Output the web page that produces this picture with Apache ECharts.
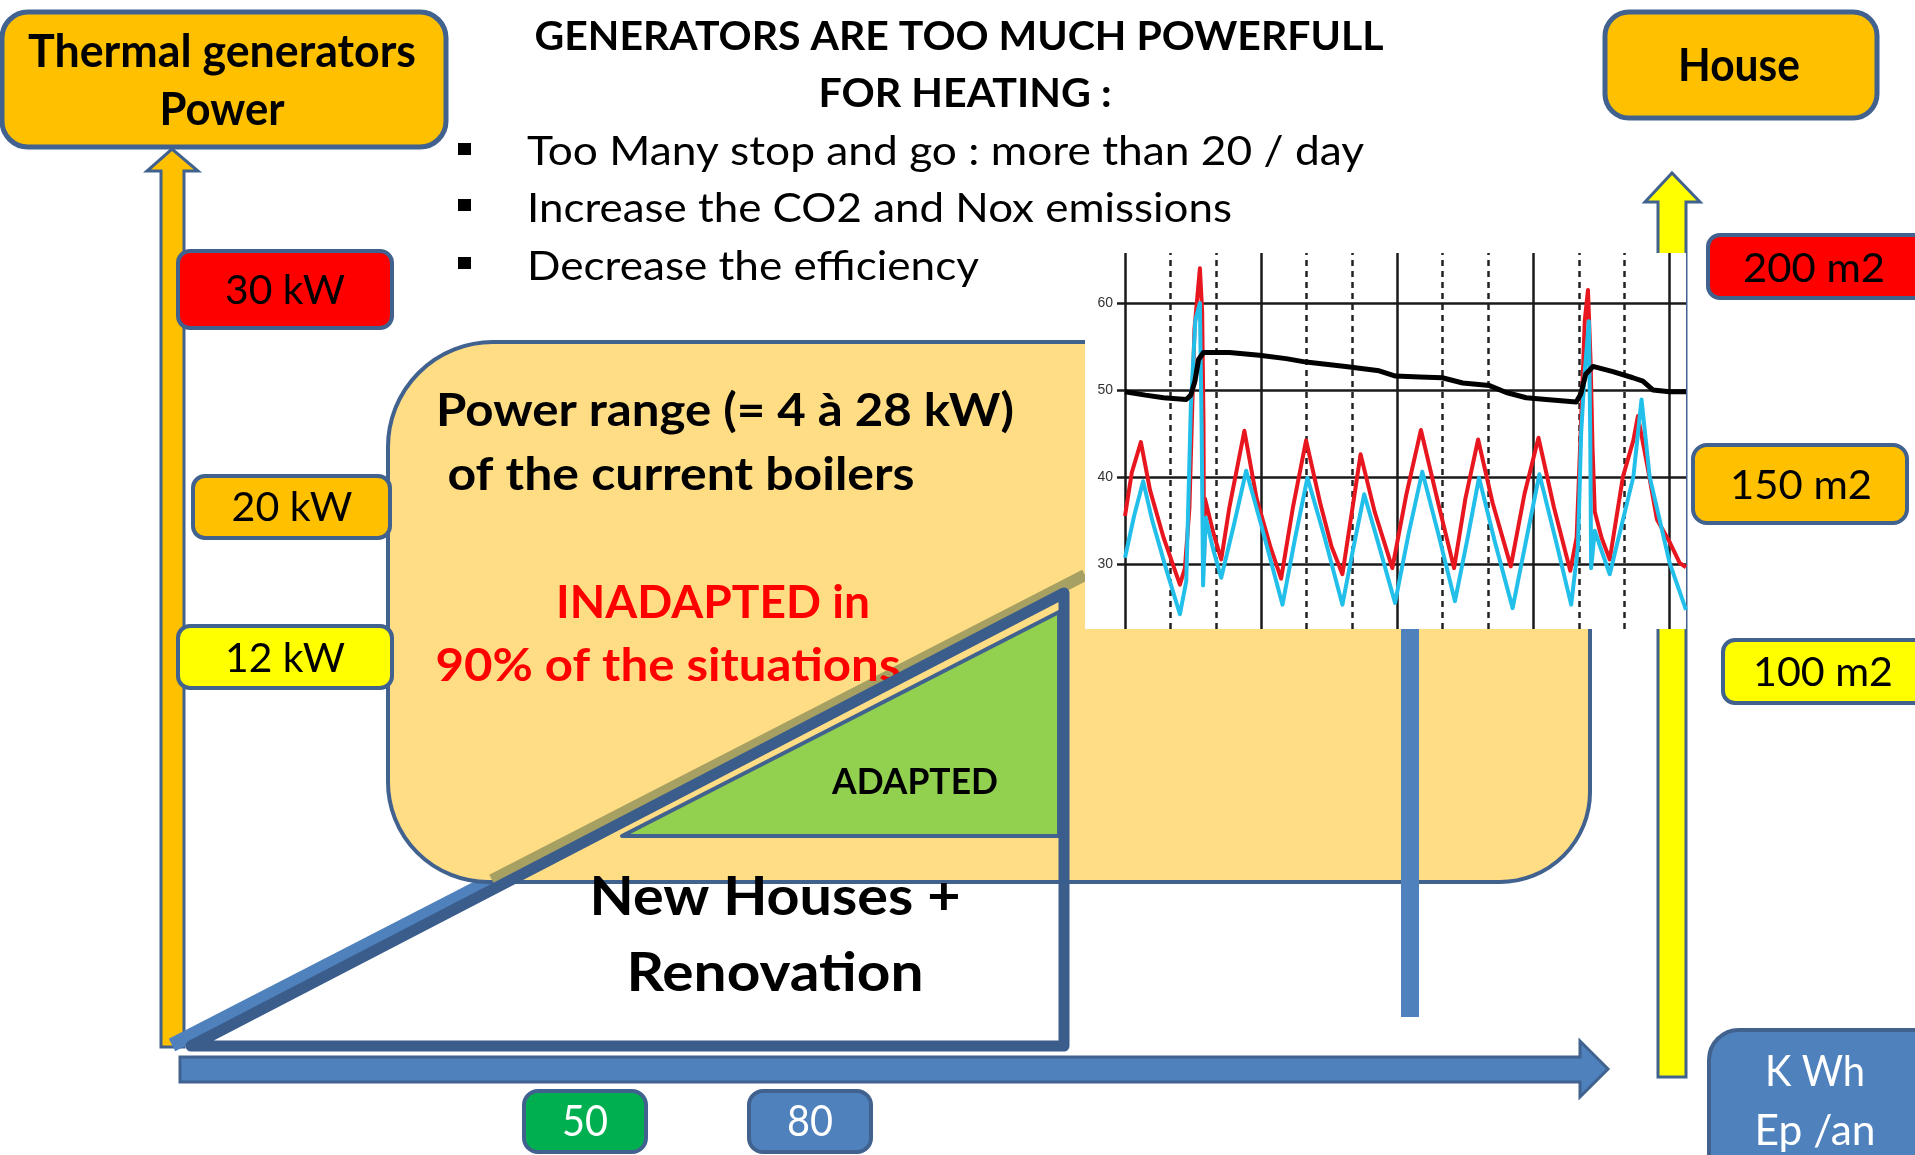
<!DOCTYPE html>
<html><head><meta charset="utf-8">
<script src="https://cdn.jsdelivr.net/npm/echarts@6/dist/echarts.min.js"></script>
<style>html,body{margin:0;padding:0;background:#fff;overflow:hidden}#c{width:1915px;height:1155px}</style>
</head><body><div id="c"></div>
<script>
// ===== DATA =====
const yTickValues = [30, 40, 50, 60];
const majorX = [0, 3, 6, 9, 12];
const minorX = [1, 2, 4, 5, 7, 8, 10, 11];
const blackLine = [[0.00,49.8],[0.45,49.4],[0.85,49.1],[1.35,48.9],[1.45,49.4],[1.54,51.0],[1.62,53.5],[1.73,54.3],[2.30,54.3],[2.96,54.0],[3.55,53.6],[3.99,53.2],[4.86,52.7],[5.60,52.2],[5.96,51.6],[6.50,51.5],[6.99,51.4],[7.44,50.8],[8.03,50.5],[8.40,49.7],[8.84,49.1],[9.28,48.9],[9.94,48.6],[10.04,49.5],[10.15,51.8],[10.31,52.7],[10.75,52.1],[11.19,51.4],[11.41,51.0],[11.63,50.0],[12.00,49.8],[12.36,49.8]];
const redLine = [[0.00,35.5],[0.15,40.5],[0.35,44.0],[0.55,38.5],[0.85,33.0],[1.21,27.6],[1.32,29.5],[1.42,36.5],[1.53,57.0],[1.65,64.0],[1.70,59.0],[1.73,46.0],[1.74,30.0],[1.76,37.5],[1.95,33.5],[2.12,30.5],[2.30,36.5],[2.63,45.3],[2.90,37.5],[3.20,32.0],[3.44,28.3],[3.70,36.5],[3.99,44.2],[4.30,37.0],[4.55,32.0],[4.79,28.8],[5.00,36.0],[5.19,42.6],[5.50,36.0],[5.89,29.5],[6.20,38.0],[6.52,45.4],[6.90,37.0],[7.25,29.5],[7.50,37.5],[7.78,44.3],[8.10,37.0],[8.50,29.7],[8.80,38.0],[9.11,44.5],[9.45,36.5],[9.81,29.2],[9.95,33.0],[10.06,48.0],[10.13,58.0],[10.20,61.5],[10.26,53.0],[10.30,43.5],[10.35,36.0],[10.50,33.0],[10.68,30.5],[10.97,40.0],[11.20,44.2],[11.30,47.0],[11.50,41.5],[11.72,35.1],[12.00,32.5],[12.22,30.1],[12.36,29.6]];
const cyanLine = [[0.00,30.7],[0.20,35.5],[0.40,39.5],[0.60,35.0],[0.90,29.5],[1.21,24.2],[1.35,28.0],[1.45,48.0],[1.55,58.0],[1.65,60.0],[1.69,45.0],[1.72,27.5],[1.78,35.3],[1.95,31.5],[2.12,28.4],[2.40,34.5],[2.67,40.7],[3.00,34.5],[3.47,25.3],[3.75,33.0],[4.02,39.9],[4.40,33.0],[4.79,25.3],[5.00,31.0],[5.27,38.0],[5.60,32.0],[5.95,25.5],[6.25,33.5],[6.55,40.6],[6.90,33.5],[7.27,25.7],[7.55,33.0],[7.80,39.9],[8.15,32.5],[8.54,24.9],[8.85,33.0],[9.13,40.3],[9.50,32.5],[9.83,25.3],[9.98,32.0],[10.05,45.0],[10.12,51.4],[10.22,57.9],[10.25,45.0],[10.27,29.5],[10.35,33.8],[10.50,31.5],[10.68,28.8],[11.20,40.0],[11.38,48.9],[11.56,40.0],[12.00,30.1],[12.36,24.7]];
const powerLabels = ['30 kW', '20 kW', '12 kW'];
const areaLabels = ['200 m2', '150 m2', '100 m2'];
const energyLabels = ['50', '80'];
const unitLines = ['K Wh', 'Ep /an'];
const leftTitle = ['Thermal generators', 'Power'];
const rightTitle = 'House';
const titleLines = ['GENERATORS ARE TOO MUCH POWERFULL', 'FOR HEATING :'];
const bullets = ['Too Many stop and go : more than 20 / day', 'Increase the CO2 and Nox emissions', 'Decrease the efficiency'];
const rangeLines = ['Power range (= 4 à 28 kW)', 'of the current boilers'];
const inadaptedLines = ['INADAPTED in', '90% of the situations'];
const adaptedText = 'ADAPTED';
const newLines = ['New Houses +', 'Renovation'];

// ===== STYLE / LAYOUT =====
const FONT = 'Lato';
const BORDER = '#41628F', BLUE = '#4F81BD', DARKBLUE = '#3A5D8B';
const mctx = document.createElement('canvas').getContext('2d');
function txt(text, x, y, size, weight, color, targetW, z, align) {
  const font = weight + ' ' + size + 'px ' + FONT;
  mctx.font = font;
  const w = mctx.measureText(text).width;
  const sx = targetW ? targetW / w : 1;
  align = align || 'center';
  return { type: 'text', x: x, y: y, scaleX: sx, z: z || 7, silent: true,
    style: { text: text, x: 0, y: 0, font: font, fill: color, align: align, verticalAlign: 'middle', textAlign: align, textVerticalAlign: 'middle' } };
}
function box(x, y, w, h, r, fill, lw, z) {
  return { type: 'rect', z: z || 4, silent: true, shape: { x: x, y: y, width: w, height: h, r: r },
    style: { fill: fill, stroke: BORDER, lineWidth: lw || 4 } };
}
const g = [];
// arrows
g.push({ type: 'polygon', z: 1, silent: true, shape: { points: [[161,1047],[161,171],[147,171],[172,149],[198,171],[184,171],[184,1047]] }, style: { fill: '#FFC000', stroke: BORDER, lineWidth: 3 } });
g.push({ type: 'polygon', z: 1, silent: true, shape: { points: [[1658,1077],[1658,202],[1645,202],[1672,173],[1700,202],[1686,202],[1686,1077]] }, style: { fill: '#FFFF00', stroke: BORDER, lineWidth: 3 } });
g.push({ type: 'polygon', z: 1, silent: true, shape: { points: [[180,1057],[1580,1057],[1580,1041],[1608,1069],[1580,1097],[1580,1082],[180,1082]] }, style: { fill: BLUE, stroke: BORDER, lineWidth: 3 } });
// light blue diagonal (under rect)
g.push({ type: 'line', z: 2, silent: true, shape: { x1: 172, y1: 1045, x2: 1085, y2: 575 }, style: { stroke: BLUE, lineWidth: 14 } });
// big rounded rectangle
g.push({ type: 'rect', z: 3, silent: true, shape: { x: 388, y: 342, width: 1202, height: 540, r: [105, 40, 90, 100] }, style: { fill: '#FFDD85', stroke: BORDER, lineWidth: 4 } });
// olive continuation inside rect
g.push({ type: 'line', z: 4, silent: true, shape: { x1: 492, y1: 880, x2: 1085, y2: 575 }, style: { stroke: '#A6A063', lineWidth: 12 } });
// blue vertical bar
g.push({ type: 'rect', z: 4, silent: true, shape: { x: 1401, y: 600, width: 18, height: 417 }, style: { fill: BLUE } });
// green triangle + dark outline
g.push({ type: 'polygon', z: 5, silent: true, shape: { points: [[622,836],[1059,612],[1059,836]] }, style: { fill: '#92D050', stroke: BORDER, lineWidth: 4, lineJoin: 'round' } });
g.push({ type: 'polygon', z: 6, silent: true, shape: { points: [[191,1046],[1064,593],[1064,1046]] }, style: { fill: 'none', stroke: DARKBLUE, lineWidth: 11, lineJoin: 'round' } });
// header boxes
g.push(box(2, 12, 444, 135, 26, '#FFC000', 5));
g.push(box(1605, 12, 272, 106, 24, '#FFC000', 5));
// power boxes
g.push(box(178, 251, 214, 77, 12, '#FF0000'));
g.push(box(193, 476, 197, 62, 12, '#FFC000'));
g.push(box(178, 626, 214, 62, 12, '#FFFF00'));
// area boxes
g.push(box(1708, 235, 230, 63, 12, '#FF0000'));
g.push(box(1693, 445, 214, 78, 14, '#FFC000'));
g.push(box(1723, 640, 220, 63, 12, '#FFFF00'));
// energy boxes
g.push(box(524, 1091, 122, 61, 14, '#00B050'));
g.push(box(749, 1091, 122, 61, 14, BLUE));
g.push(box(1709, 1030, 240, 160, 30, BLUE));
// bullet squares
[143, 199, 257].forEach(function (y) { g.push({ type: 'rect', z: 4, silent: true, shape: { x: 458, y: y, width: 13, height: 12 }, style: { fill: '#000' } }); });
// inset background
g.push({ type: 'rect', z: 8, silent: true, shape: { x: 1085, y: 253, width: 601, height: 376 }, style: { fill: '#fff' } });

// texts
g.push(txt(leftTitle[0], 222, 52, 46, 'bold', '#000', 388));
g.push(txt(leftTitle[1], 222, 110, 46, 'bold', '#000', 125));
g.push(txt(rightTitle, 1739, 66, 46, 'bold', '#000', 122));
g.push(txt(titleLines[0], 959, 37, 40, 'bold', '#000', 849));
g.push(txt(titleLines[1], 965, 94, 40, 'bold', '#000', 293));
[[152, 837], [209, 705], [267, 452]].forEach(function (p, i) { g.push(txt(bullets[i], 527, p[0], 40, 'normal', '#000', p[1], 7, 'left')); });
[[285, 291, 120], [292, 508, 121], [285, 659, 120]].forEach(function (p, i) { g.push(txt(powerLabels[i], p[0], p[1], 40, 'normal', '#000', p[2])); });
[[1814, 269, 142], [1801, 486, 142], [1823, 673, 140]].forEach(function (p, i) { g.push(txt(areaLabels[i], p[0], p[1], 40, 'normal', '#000', p[2])); });
g.push(txt(rangeLines[0], 725, 411, 46, 'bold', '#000', 578, 4));
g.push(txt(rangeLines[1], 681, 475, 46, 'bold', '#000', 467, 4));
g.push(txt(inadaptedLines[0], 713, 603, 46, 'bold', '#FF0000', 314, 4));
g.push(txt(inadaptedLines[1], 668, 666, 46, 'bold', '#FF0000', 465, 4));
g.push(txt(adaptedText, 915, 782, 37, 'bold', '#000', 166));
g.push(txt(newLines[0], 775, 898, 54, 'bold', '#000', 371));
g.push(txt(newLines[1], 775, 974, 54, 'bold', '#000', 297));
g.push(txt(energyLabels[0], 585, 1122, 42, 'normal', '#fff', 46));
g.push(txt(energyLabels[1], 810, 1122, 42, 'normal', '#fff', 46));
g.push(txt(unitLines[0], 1815, 1072, 42, 'normal', '#fff', 100));
g.push(txt(unitLines[1], 1815, 1131, 42, 'normal', '#fff', 121));

const solid = { color: '#1a1a1a', width: 2.5, type: 'solid' };
const dashed = { color: '#222', width: 2.5, type: [6, 5] };
const gridLines = []
  .concat(yTickValues.map(function (v) { return { yAxis: v, lineStyle: solid }; }))
  .concat(majorX.map(function (v) { return { xAxis: v, lineStyle: solid }; }))
  .concat(minorX.map(function (v) { return { xAxis: v, lineStyle: dashed }; }));

function lineSeries(name, data, color, width) {
  return { name: name, type: 'line', data: data, z: 10, showSymbol: false, symbol: 'none', clip: true, silent: true,
    lineStyle: { color: color, width: width, join: 'round' }, emphasis: { disabled: true } };
}

const chart = echarts.init(document.getElementById('c'), null, { renderer: 'canvas', width: 1915, height: 1155 });
chart.setOption({
  animation: false,
  backgroundColor: '#fff',
  grid: { left: 1125, top: 253, width: 561, height: 376, containLabel: false, outerBoundsMode: 'none' },
  xAxis: { type: 'value', min: 0, max: 12.36, show: false, splitLine: { show: false } },
  yAxis: { type: 'value', min: 22.5, max: 65.75, z: 9,
    axisLine: { show: false }, splitLine: { show: false },
    axisTick: { show: true, length: 8, customValues: yTickValues, lineStyle: { color: '#1a1a1a', width: 2.5 } },
    axisLabel: { customValues: yTickValues, fontSize: 14, color: '#333', margin: 12, fontFamily: 'Liberation Sans' } },
  graphic: { elements: g },
  series: [
    { type: 'line', data: [], z: 9, silent: true,
      markLine: { z: 9, silent: true, symbol: ['none', 'none'], animation: false, label: { show: false }, emphasis: { disabled: true }, data: gridLines } },
    lineSeries('red', redLine, '#E8161F', 4),
    lineSeries('cyan', cyanLine, '#22BFEA', 4),
    lineSeries('black', blackLine, '#000', 5)
  ]
});
</script></body></html>
